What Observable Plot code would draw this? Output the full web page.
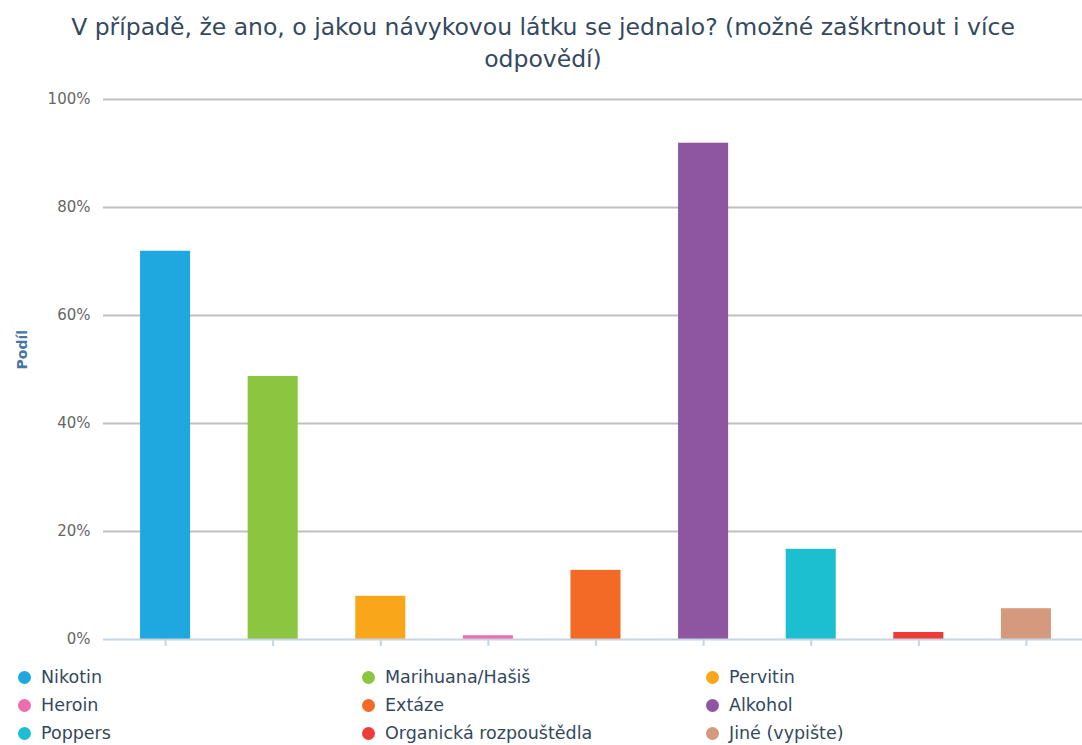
<!DOCTYPE html>
<html><head><meta charset="utf-8">
<script src="https://cdn.jsdelivr.net/npm/d3@7"></script>
<script src="https://cdn.jsdelivr.net/npm/@observablehq/plot@0.6"></script>
<style>
body{margin:0;background:#fff;font-family:"DejaVu Sans",sans-serif;}
#title{width:1082px;height:85px;text-align:center;color:#34495e;font-size:23.5px;line-height:32px;padding-top:11px;padding-left:4px;box-sizing:border-box;}
#legend{position:relative;width:1082px;height:90px;}
.li{position:absolute;font-size:17.5px;color:#34495e;display:flex;align-items:center;line-height:20px;}
.dot{width:13px;height:13px;border-radius:50%;margin-right:10px;}
</style></head>
<body>
<div id="title">V případě, že ano, o jakou návykovou látku se jednalo? (možné zaškrtnout i více<br>odpovědí)</div>
<div id="chart"></div>
<div id="legend"></div>
<script>
const categories = ["Nikotin","Marihuana/Hašiš","Pervitin","Heroin","Extáze","Alkohol","Poppers","Organická rozpouštědla","Jiné (vypište)"];
const values = [71.9, 48.7, 8.0, 0.7, 12.8, 91.9, 16.7, 1.3, 5.7];
const colors = ["#1fa8e0","#8cc540","#faa61a","#ec6eae","#f26a25","#8e55a0","#1cbfcf","#ee3d38","#d59a7d"];
const yTicks = [0,20,40,60,80,100];
const yTickLabels = ["0%","20%","40%","60%","80%","100%"];

const data = categories.map((c,i)=>({cat:c, value:values[i], color:colors[i]}));

const plot = Plot.plot({
  width:1082, height:570,
  marginLeft:111, marginRight:2, marginTop:14, marginBottom:16,
  style:{fontFamily:"DejaVu Sans, sans-serif", fontSize:"15px", color:"#666"},
  x:{domain:categories, paddingInner:0.535, paddingOuter:0.27, round:false, axis:null},
  y:{domain:[0,100], axis:null},
  marks:[
    Plot.ruleY(yTicks.filter(d=>d>0), {stroke:"#c0c0c0", strokeWidth:2, insetLeft:-8, insetRight:-2}),
    Plot.barY(data, {x:"cat", y:"value", fill:"color"}),
    Plot.ruleY([0], {stroke:"#c8d3e3", strokeWidth:2, insetLeft:-8, insetRight:-2}),
    Plot.axisX({tickSize:7, tickFormat:()=>"", stroke:"#c8d3e3", strokeWidth:2, label:null}),
    Plot.axisY({ticks:yTicks, tickFormat:(d)=>yTickLabels[yTicks.indexOf(d)], tickSize:0, tickPadding:21, fill:"#666", fontSize:15, label:null}),
    Plot.text(["Podíl"], {frameAnchor:"left", dx:-89, rotate:-90, fill:"#4a73a8", fontWeight:"bold", fontSize:14})
  ]
});
document.getElementById("chart").appendChild(plot);

const leg = document.getElementById("legend");
const colX=[18,362,706];
categories.forEach((c,i)=>{
  const d=document.createElement("div");
  d.className="li";
  d.style.left=colX[i%3]+"px";
  d.style.top=(12+Math.floor(i/3)*28)+"px";
  d.innerHTML=`<span class="dot" style="background:${colors[i]}"></span>${c}`;
  leg.appendChild(d);
});
</script>
</body></html>
